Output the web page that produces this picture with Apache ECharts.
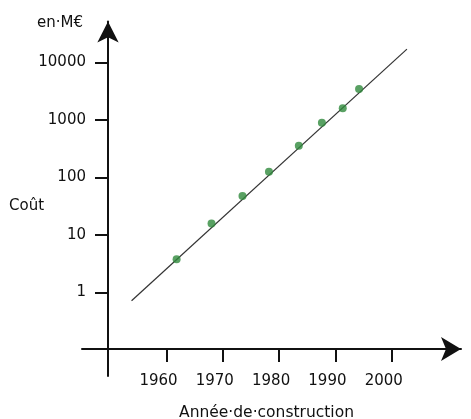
<!DOCTYPE html>
<html><head><meta charset="utf-8">
<script src="https://cdn.jsdelivr.net/npm/echarts@6/dist/echarts.min.js"></script>
<style>html,body{margin:0;padding:0;background:#fff}#c{width:471px;height:419px}</style>
</head><body><div id="c"></div>
<script>
// Data
const years = [1961.8, 1968.0, 1973.5, 1978.2, 1983.5, 1987.6, 1991.3, 1994.2];
const costs = [3.75, 15.8, 47.3, 125, 354, 890, 1585, 3435];
// Fitted trend line (end points)
const fitYears = [1953.8, 2002.7];
const fitCosts = [0.714, 17000];
// Tick labels
const xTicks = [1960, 1970, 1980, 1990, 2000];
const yTicks = [1, 10, 100, 1000, 10000];

const font = 'DejaVu Sans';
const ink = '#111';
const chart = echarts.init(document.getElementById('c'), null, {renderer: 'canvas'});
chart.setOption({
  animation: false,
  backgroundColor: '#fff',
  title: [
    {text: 'Coût', left: 9, top: 199, padding: 0,
     textStyle: {fontFamily: font, fontSize: 15, fontWeight: 'normal', color: ink}},
    {text: 'en·M€', left: 37, top: 16, padding: 0,
     textStyle: {fontFamily: font, fontSize: 15, fontWeight: 'normal', color: ink}}
  ],
  grid: {left: 82, right: 10, top: 21.5, bottom: 43, containLabel: false, outerBoundsMode: 'none'},
  xAxis: {
    type: 'value', min: 1945, max: 2012.3, offset: -27,
    axisLine: {onZero: false, symbol: ['none', 'arrow'], symbolSize: [18, 20],
               lineStyle: {color: ink, width: 2}},
    axisTick: {customValues: xTicks, length: 13, lineStyle: {color: ink, width: 2}},
    axisLabel: {customValues: xTicks, margin: 25, padding: [0, 16, 0, 0],
                fontFamily: font, fontSize: 15, color: ink,
                formatter: v => String(Math.round(v))},
    splitLine: {show: false},
    name: 'Année·de·construction', nameLocation: 'middle', nameGap: 56,
    nameTextStyle: {fontFamily: font, fontSize: 15.5, color: ink, padding: [0, 10, 0, 0]}
  },
  yAxis: {
    type: 'log', logBase: 10, min: 0.035, max: 51300, offset: -26,
    axisLine: {onZero: false, symbol: ['none', 'arrow'], symbolSize: [16, 21],
               lineStyle: {color: ink, width: 2}},
    axisTick: {customValues: yTicks, length: 13, lineStyle: {color: ink, width: 2}},
    axisLabel: {customValues: yTicks, margin: 22, padding: [0, 0, 6, 0],
                fontFamily: font, fontSize: 15, color: ink,
                formatter: v => String(Math.round(v))},
    splitLine: {show: false}
  },
  series: [
    {type: 'line', data: fitYears.map((x, i) => [x, fitCosts[i]]), symbol: 'none',
     lineStyle: {color: '#333', width: 1.2}, z: 2},
    {type: 'scatter', data: years.map((x, i) => [x, costs[i]]), symbol: 'circle',
     symbolSize: 8, itemStyle: {color: '#2f8a3c'}, z: 3}
  ]
});
</script></body></html>
